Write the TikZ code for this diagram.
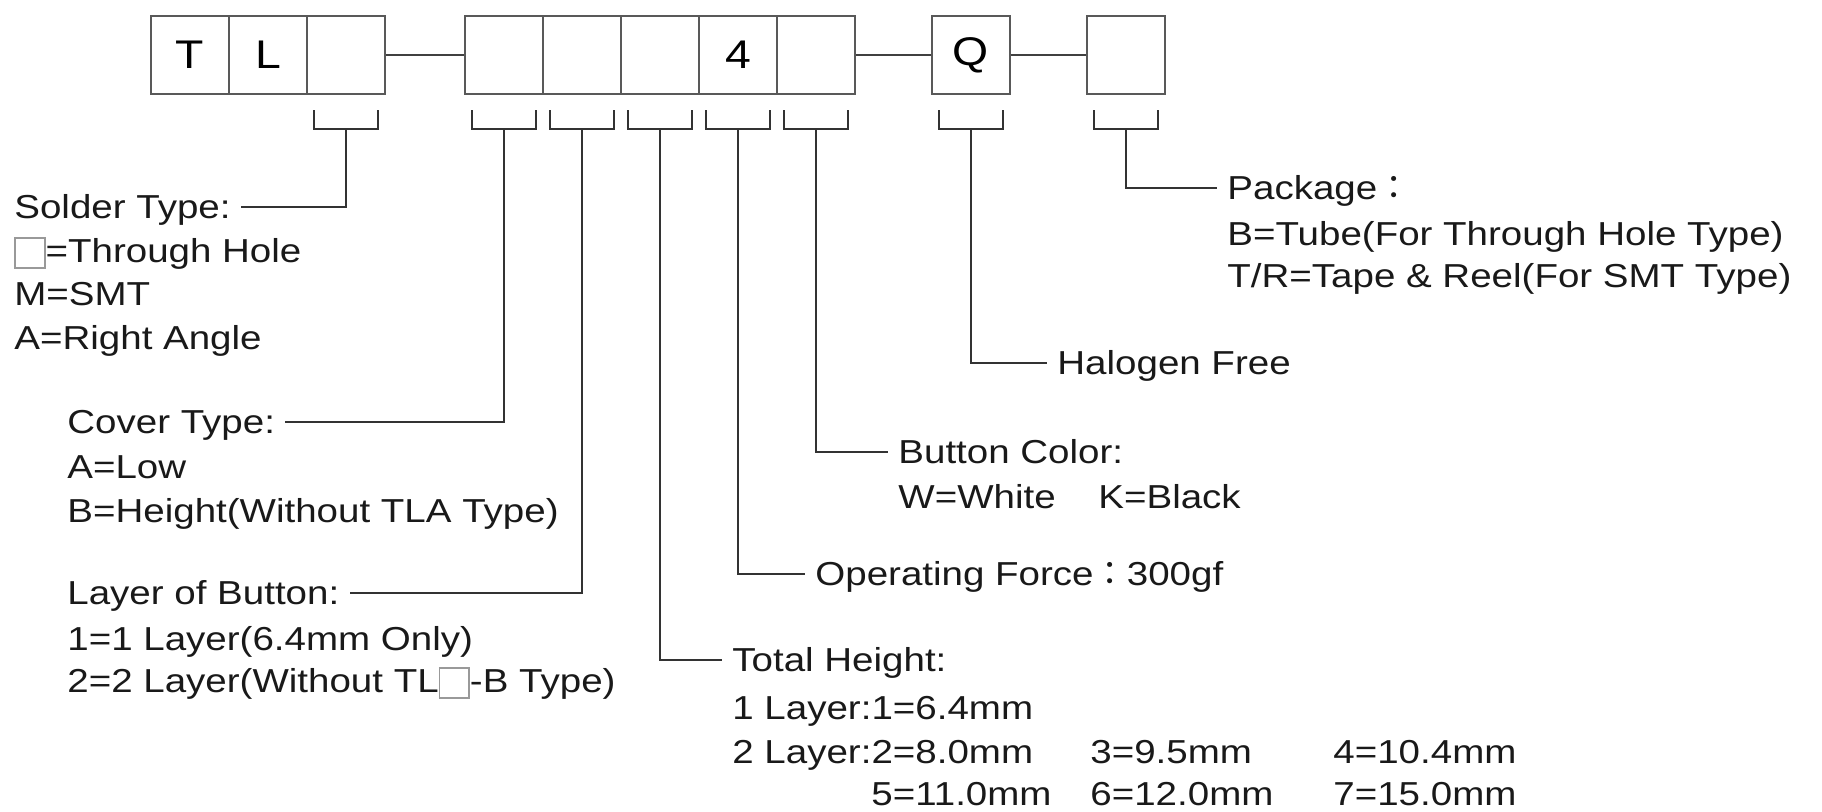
\documentclass[tikz,border=0pt]{standalone}
\usepackage{fontspec}
\setmainfont{Liberation Sans}[FakeStretch=1.16]
\newfontfamily\cjkfont{Noto Sans CJK TC}[FakeStretch=1.0]
\newcommand\fcolon{{\cjkfont ：}}
\newcommand\sqbox{{\color{black!40}\setlength{\fboxsep}{0pt}\setlength{\fboxrule}{0.8pt}\raisebox{-2.5pt}{\fbox{\rule{0pt}{14pt}\hspace{14pt}}}}}
\begin{document}
\begin{tikzpicture}[x=0.5pt,y=-0.5pt,
  cell/.style={draw=black!65, line width=1pt, minimum width=39pt, minimum height=39pt, inner sep=0pt, font=\fontsize{20}{24}\selectfont},
  lnk/.style={draw=black!75, line width=1pt},
  lead/.style={draw=black!80, line width=1pt},
  ttl/.style={font=\fontsize{16.6}{20}\selectfont, text=black!90, inner xsep=5pt, inner ysep=0pt, text height=11.9pt, text depth=0pt, anchor=west},
  txt/.style={font=\fontsize{16.6}{20}\selectfont, text=black!90, inner sep=0pt, anchor=base west}]
\useasboundingbox (0,0) rectangle (1822,811);
% code boxes
\node[cell] (c1) at (190,55) {T};
\node[cell] (c2) at (268,55) {L};
\node[cell] (c3) at (346,55) {};
\node[cell] (c4) at (504,55) {};
\node[cell] (c5) at (582,55) {};
\node[cell] (c6) at (660,55) {};
\node[cell] (c7) at (738,55) {4};
\node[cell] (c8) at (816,55) {};
\node[cell] (cq) at (971,55) {Q};
\node[cell] (cp) at (1126,55) {};
\draw[lnk] (c3.east) -- (c4.west);
\draw[lnk] (c8.east) -- (cq.west);
\draw[lnk] (cq.east) -- (cp.west);
% brackets
\foreach \n in {c3,c4,c5,c6,c7,c8,cq,cp}{
  \draw[lead] ([shift={(-32,15)}]\n.south) -- ++(0,19) -- ++(64,0) -- ++(0,-19);
  \coordinate (s-\n) at ([shift={(0,34)}]\n.south);
}
% titles
\node[ttl] (solder) at (4,207) {Solder Type:};
\node[ttl] (cover) at (57,422) {Cover Type:};
\node[ttl] (layer) at (57,593) {Layer of Button:};
\node[ttl] (total) at (722,660) {Total Height:};
\node[ttl] (force) at (805,574) {Operating Force\fcolon300gf};
\node[ttl] (color) at (888,452) {Button Color:};
\node[ttl] (halogen) at (1047,363) {Halogen Free};
\node[ttl] (package) at (1217,188) {Package\fcolon};
% leaders
\draw[lead] (s-c3) |- (solder.east);
\draw[lead] (s-c4) |- (cover.east);
\draw[lead] (s-c5) |- (layer.east);
\draw[lead] (s-c6) |- (total.west);
\draw[lead] (s-c7) |- (force.west);
\draw[lead] (s-c8) |- (color.west);
\draw[lead] (s-cq) |- (halogen.west);
\draw[lead] (s-cp) |- (package.west);
% body text
\node[txt] (sol1) at (14,262) {\sqbox=Through Hole};
\node[txt] (sol2) at (14,305) {M=SMT};
\node[txt] (sol3) at (14,349) {A=Right Angle};
\node[txt] (cov1) at (67,478) {A=Low};
\node[txt] (cov2) at (67,522) {B=Height(Without TLA Type)};
\node[txt] (lay1) at (67,650) {1=1 Layer(6.4mm Only)};
\node[txt] (lay2) at (67,692) {2=2 Layer(Without TL\sqbox-B Type)};
\node[txt] (tot1) at (732,719) {1 Layer:1=6.4mm};
\node[txt] (tot2) at (732,763) {2 Layer:2=8.0mm};
\node[txt] (tot3) at (1090,763) {3=9.5mm};
\node[txt] (tot4) at (1333,763) {4=10.4mm};
\node[txt] (tot5) at (871,805) {5=11.0mm};
\node[txt] (tot6) at (1090,805) {6=12.0mm};
\node[txt] (tot7) at (1333,805) {7=15.0mm};
\node[txt] (col1) at (898,508) {W=White};
\node[txt] (col2) at (1098,508) {K=Black};
\node[txt] (pkg1) at (1227,245) {B=Tube(For Through Hole Type)};
\node[txt] (pkg2) at (1227,287) {T/R=Tape \& Reel(For SMT Type)};
\end{tikzpicture}
\end{document}
